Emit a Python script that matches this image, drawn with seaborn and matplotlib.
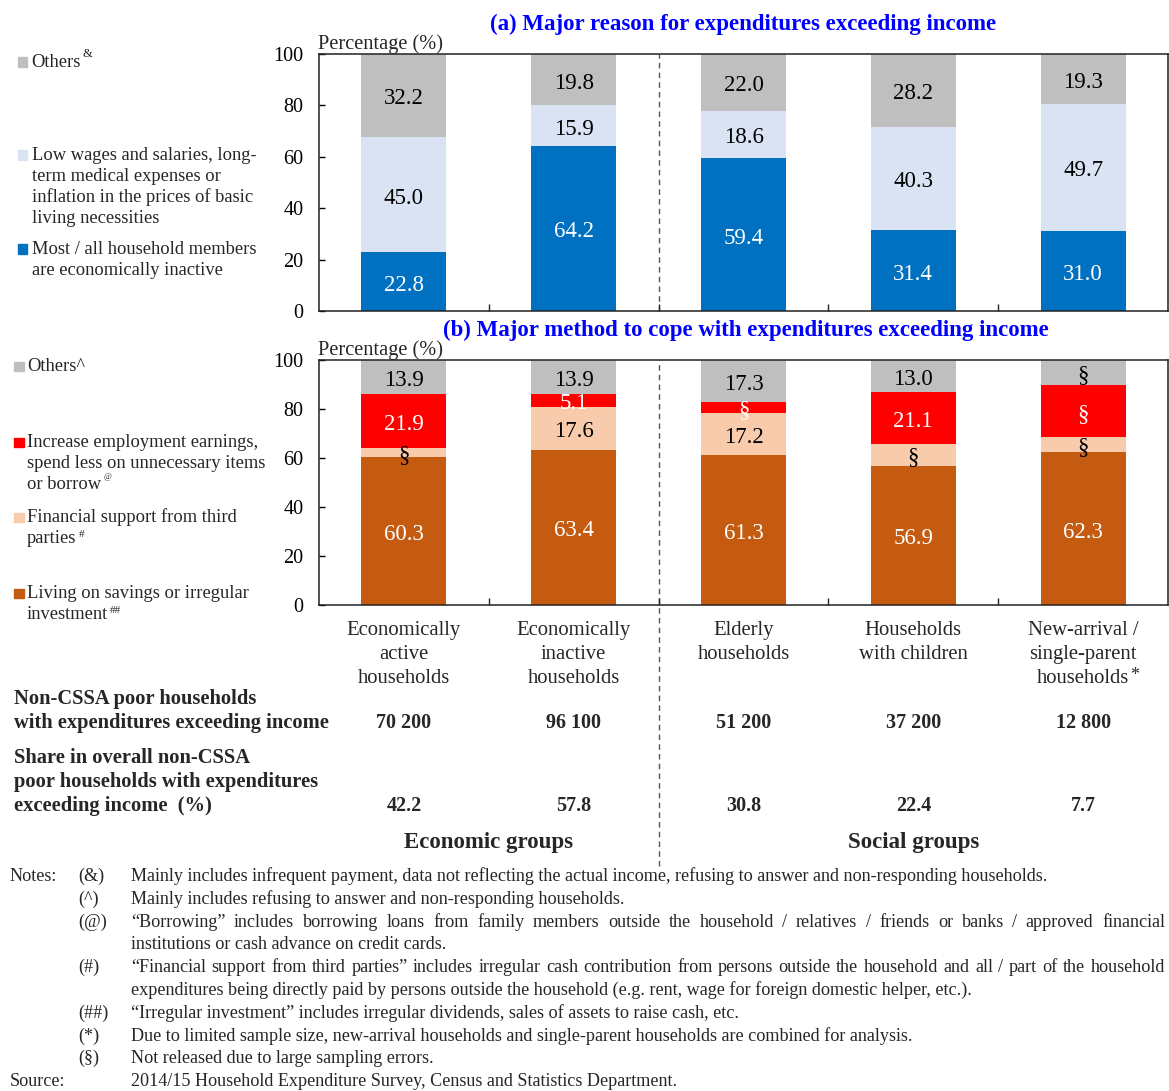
import numpy as np
import pandas as pd
import matplotlib
matplotlib.use("Agg")
import matplotlib.pyplot as plt
import seaborn as sns
from matplotlib.patches import Rectangle
from matplotlib import transforms

# ---------------- data ----------------
categories = ["Economically active households", "Economically inactive households",
              "Elderly households", "Households with children",
              "New-arrival / single-parent households"]
cat_labels = ["Economically\nactive\nhouseholds", "Economically\ninactive\nhouseholds",
              "Elderly\nhouseholds", "Households\nwith children",
              "New-arrival /\nsingle-parent\nhouseholds"]
cat_sup = ["", "", "", "", "*"]

# panel (a): major reason for expenditures exceeding income (%)
a_inactive = [22.8, 64.2, 59.4, 31.4, 31.0]
a_low_wages = [45.0, 15.9, 18.6, 40.3, 49.7]
a_others = [32.2, 19.8, 22.0, 28.2, 19.3]

# panel (b): major method to cope (%) ; § = not released (heights)
b_savings = [60.3, 63.4, 61.3, 56.9, 62.3]
b_support = [3.9, 17.6, 17.2, 9.0, 6.4]
b_increase = [21.9, 5.1, 4.2, 21.1, 21.1]
b_others = [13.9, 13.9, 17.3, 13.0, 10.2]
b_savings_rel = [True, True, True, True, True]
b_support_rel = [False, True, True, False, False]
b_increase_rel = [True, True, False, True, False]
b_others_rel = [True, True, True, True, False]

households = ["70 200", "96 100", "51 200", "37 200", "12 800"]
shares = ["42.2", "57.8", "30.8", "22.4", "7.7"]
yticks = [0, 20, 40, 60, 80, 100]

# ---------------- style ----------------
sns.set_style("ticks")
plt.rcParams["font.family"] = ["Liberation Serif", "DejaVu Serif"]

W, H = 1169, 1091
fig = plt.figure(figsize=(W / 100, H / 100), dpi=100)


def rect(x0, y0, x1, y1):
    return [x0 / W, 1 - y1 / H, (x1 - x0) / W, (y1 - y0) / H]


def P(x, y):
    return x / W, 1 - y / H


ax_a = fig.add_axes(rect(319, 54, 1168, 311))
ax_b = fig.add_axes(rect(319, 360, 1168, 605))

BLUE = "#0070C0"
LBLUE = "#DAE3F3"
GREY = "#BFBFBF"
BROWN = "#C55A11"
PEACH = "#F8CBAD"
RED = "#FF0000"


def sup(t, s, size=9, va="bottom", dy=0.0, dx=1.0):
    """Attach a superscript string s to the upper right of text artist t."""
    if not s:
        return
    ax_a.annotate(s, xy=(1, 1), xycoords=t, xytext=(dx, dy), textcoords="offset points",
                  ha="left", va=va, fontsize=size, annotation_clip=False)


def stacked(ax, series):
    df = pd.DataFrame({"cat": categories})
    bottom = np.zeros(len(categories))
    for vals, color, lcolor, rel in series:
        df["v"] = vals
        sns.barplot(data=df, x="cat", y="v", order=categories, color=color,
                    saturation=1, width=0.5, errorbar=None, linewidth=0,
                    bottom=bottom.copy(), ax=ax)
        cont = ax.containers[-1]
        labels = [f"{v:.1f}" if r else "§" for v, r in zip(vals, rel)]
        anns = ax.bar_label(cont, labels=labels, label_type="center", color=lcolor,
                            fontsize=16.5)
        for an in anns:
            an.set_position((0, -2.5))
        bottom += np.asarray(vals)


stacked(ax_a, [
    (a_inactive, BLUE, "white", [True] * 5),
    (a_low_wages, LBLUE, "black", [True] * 5),
    (a_others, GREY, "black", [True] * 5),
])
stacked(ax_b, [
    (b_savings, BROWN, "white", b_savings_rel),
    (b_support, PEACH, "black", b_support_rel),
    (b_increase, RED, "white", b_increase_rel),
    (b_others, GREY, "black", b_others_rel),
])

for ax in (ax_a, ax_b):
    ax.set_ylim(0, 100)
    ax.set_xlim(-0.5, len(categories) - 0.5)
    ax.set_yticks(yticks)
    ax.set_xticks([i + 0.5 for i in range(len(categories) - 1)])
    ax.set_xticklabels([])
    ax.set_xlabel("")
    ax.set_ylabel("")
    ax.tick_params(axis="y", direction="in", length=4, width=1, labelsize=14.5,
                   pad=11, colors="black")
    ax.tick_params(axis="x", direction="in", length=5, width=1)
    for s in ax.spines.values():
        s.set_visible(True)
        s.set_color("#222222")
        s.set_linewidth(1.1)
    ax.set_facecolor("white")

# titles and axis captions
fig.text(*P(743, 24), "(a) Major reason for expenditures exceeding income",
         ha="center", va="center", color="#0000FF", fontsize=16.5, fontweight="bold")
fig.text(*P(745.5, 330), "(b) Major method to cope with expenditures exceeding income",
         ha="center", va="center", color="#0000FF", fontsize=16.5, fontweight="bold")
fig.text(*P(318, 49), "Percentage (%)", ha="left", va="baseline", fontsize=14.7)
fig.text(*P(318, 355), "Percentage (%)", ha="left", va="baseline", fontsize=14.7)

# dashed separator between economic and social groups
dash_kw = dict(color="#555555", lw=1, ls=(0, (4, 3)), zorder=0)
ax_a.axvline(1.5, ymin=0, ymax=1, **dash_kw)
ax_b.axvline(1.5, ymin=(605 - 866) / 245, ymax=1, clip_on=False, **dash_kw)


# legends (manual, left side)
def legend_item(x_sq, x_txt, baselines, lines, color, last_sup="", sup_kw=None, sq=9.5):
    fig.patches.append(Rectangle(P(x_sq, baselines[0]), sq / W, sq / H,
                                 transform=fig.transFigure, color=color))
    t = None
    for yb, line in zip(baselines, lines):
        t = fig.text(*P(x_txt, yb), line, ha="left", va="baseline", fontsize=13.3)
    if last_sup:
        sup(t, last_sup, **(sup_kw or {}))


legend_item(17.5, 31.5, [67], ["Others"], GREY, "&",
            dict(size=9, va="bottom", dy=-4))
legend_item(17.5, 31.5, [160, 181, 202, 223],
            ["Low wages and salaries, long-", "term medical expenses or",
             "inflation in the prices of basic", "living necessities"], LBLUE)
legend_item(17.5, 31.5, [254, 275],
            ["Most / all household members", "are economically inactive"], BLUE)

legend_item(14, 27, [371], ["Others^"], GREY)
legend_item(14, 27, [447, 468, 489],
            ["Increase employment earnings,", "spend less on unnecessary items",
             "or borrow"], RED, "@", dict(size=6, va="top", dy=2, dx=2))
legend_item(14, 27, [522, 543],
            ["Financial support from third", "parties"], PEACH, "#",
            dict(size=8, va="top", dy=0, dx=2))
legend_item(14, 27, [598, 619],
            ["Living on savings or irregular", "investment"], BROWN, "##",
            dict(size=8, va="top", dy=0, dx=1))

# category labels and table rows under panel (b)
bt = transforms.blended_transform_factory(ax_b.transData, fig.transFigure)
for i, lab in enumerate(cat_labels):
    t = None
    for j, line in enumerate(lab.split("\n")):
        t = fig.text(i, 1 - (635 + 24 * j) / H, line, transform=bt, ha="center",
                     va="baseline", fontsize=14.9)
    sup(t, cat_sup[i], size=13, va="top", dy=1.5, dx=1)
    fig.text(i, 1 - 728 / H, households[i], transform=bt, ha="center",
             va="baseline", fontsize=14.5, fontweight="bold")
    fig.text(i, 1 - 811 / H, shares[i], transform=bt, ha="center",
             va="baseline", fontsize=14.5, fontweight="bold")

for yb, t in zip([704, 728], ["Non-CSSA poor households",
                              "with expenditures exceeding income"]):
    fig.text(*P(14, yb), t, ha="left", va="baseline", fontsize=14.75, fontweight="bold")
for yb, t in zip([763, 787, 811], ["Share in overall non-CSSA",
                                   "poor households with expenditures",
                                   "exceeding income  (%)"]):
    fig.text(*P(14, yb), t, ha="left", va="baseline", fontsize=14.75, fontweight="bold")

fig.text(0.5, 1 - 848 / H, "Economic groups", transform=bt, ha="center",
         va="baseline", fontsize=16.5, fontweight="bold")
fig.text(3, 1 - 848 / H, "Social groups", transform=bt, ha="center",
         va="baseline", fontsize=16.5, fontweight="bold")

# notes
NOTE_FS = 13.1
notes = [
    ("Notes:", "(&)", "Mainly includes infrequent payment, data not reflecting the actual income, refusing to answer and non-responding households.", False),
    ("", "(^)", "Mainly includes refusing to answer and non-responding households.", False),
    ("", "(@)", "\u201cBorrowing\u201d includes borrowing loans from family members outside the household / relatives / friends or banks / approved financial", True),
    ("", "", "institutions or cash advance on credit cards.", False),
    ("", "(#)", "\u201cFinancial support from third parties\u201d includes irregular cash contribution from persons outside the household and all / part of the household", True),
    ("", "", "expenditures being directly paid by persons outside the household (e.g. rent, wage for foreign domestic helper, etc.).", False),
    ("", "(##)", "\u201cIrregular investment\u201d includes irregular dividends, sales of assets to raise cash, etc.", False),
    ("", "(*)", "Due to limited sample size, new-arrival households and single-parent households are combined for analysis.", False),
    ("", "(\u00a7)", "Not released due to large sampling errors.", False),
    ("Source:", "", "2014/15 Household Expenditure Survey, Census and Statistics Department.", False),
]
renderer = fig.canvas.get_renderer()
X_TXT, X_RIGHT = 131, 1165
for k, (a, b, c, justify) in enumerate(notes):
    yb = 881 + 22.8 * k
    if a:
        fig.text(*P(10, yb), a, ha="left", va="baseline", fontsize=NOTE_FS)
    if b:
        fig.text(*P(78, yb), b, ha="left", va="baseline", fontsize=NOTE_FS)
    if not justify:
        fig.text(*P(X_TXT, yb), c, ha="left", va="baseline", fontsize=NOTE_FS)
        continue
    words = c.split(" ")
    arts = [fig.text(*P(X_TXT, yb), w, ha="left", va="baseline", fontsize=NOTE_FS)
            for w in words]
    widths = [t.get_window_extent(renderer).width for t in arts]
    gap = (X_RIGHT - X_TXT - sum(widths)) / (len(words) - 1)
    x = X_TXT
    for t, wd in zip(arts, widths):
        t.set_position(P(x, yb))
        x += wd + gap

fig.savefig("out.png", dpi=100, facecolor="white")
